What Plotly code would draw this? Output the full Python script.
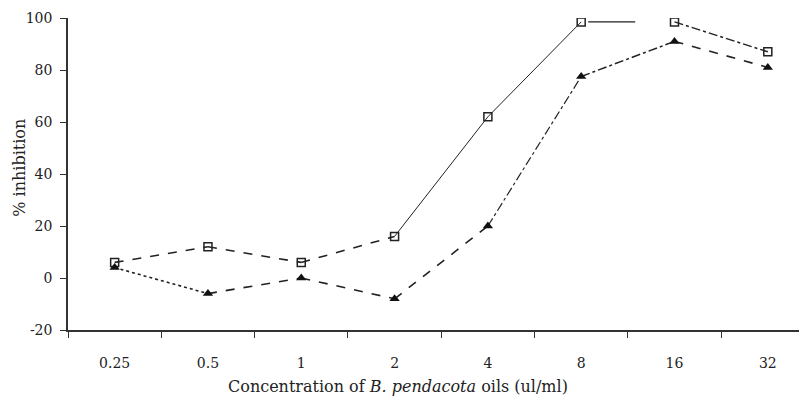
import plotly.graph_objects as go

categories = ["0.25", "0.5", "1", "2", "4", "8", "16", "32"]
squares = [6, 12, 6, 16, 62, 98.5, 98.5, 87]
triangles = [4, -6, 0, -8, 20, 77.5, 91, 81]
y_ticks = [-20, 0, 20, 40, 60, 80, 100]
y_tick_labels = ["-20", "0", "20", "40", "60", "80", "100"]

# line style per segment (between consecutive points)
sq_seg_dash = ["dash", "dash", "dash", "solid", "solid", "0px,7px,47px,100px", "dashdot"]
sq_seg_width = [1.6, 1.6, 1.6, 1.0, 1.0, 1.4, 1.5]
tr_seg_dash = ["dot", "dash", "dash", "dash", "dashdot", "dashdot", "dash"]
tr_seg_width = [1.6, 1.6, 1.6, 1.6, 1.2, 1.5, 1.6]

fig = go.Figure()
for i in range(len(categories) - 1):
    fig.add_trace(go.Scatter(x=categories[i:i + 2], y=squares[i:i + 2], mode="lines",
                             line=dict(color="#222", width=sq_seg_width[i], dash=sq_seg_dash[i]),
                             showlegend=False, hoverinfo="skip"))
    fig.add_trace(go.Scatter(x=categories[i:i + 2], y=triangles[i:i + 2], mode="lines",
                             line=dict(color="#222", width=tr_seg_width[i], dash=tr_seg_dash[i]),
                             showlegend=False, hoverinfo="skip"))

fig.add_trace(go.Scatter(x=categories, y=squares, mode="markers",
                         marker=dict(symbol="square-open", size=8, color="#222",
                                     line=dict(width=1.5, color="#222")),
                         showlegend=False))
fig.add_trace(go.Scatter(x=categories, y=triangles, mode="markers",
                         marker=dict(symbol="triangle-up", size=9, color="#111"),
                         showlegend=False))

tick_font = dict(family="DejaVu Serif, serif", size=14, color="#222")
title_font = dict(family="DejaVu Serif, serif", size=16, color="#222")

fig.update_layout(
    width=799, height=399,
    margin=dict(l=60, r=0, t=10, b=77),
    paper_bgcolor="white", plot_bgcolor="white",
    font=tick_font,
    xaxis=dict(type="category", categoryorder="array", categoryarray=categories,
               range=[-0.5, 7.42], showgrid=False, zeroline=False,
               showline=True, linecolor="#333", linewidth=1.5,
               ticks="outside", ticklen=6, tickwidth=1.3, tickcolor="#333",
               tickson="boundaries", ticklabelstandoff=19, tickfont=tick_font),
    yaxis=dict(range=[-20, 100], tickvals=y_ticks, ticktext=y_tick_labels,
               showgrid=False, zeroline=False,
               showline=True, linecolor="#333", linewidth=1.5,
               ticks="outside", ticklen=6, tickwidth=1.3, tickcolor="#333",
               ticklabelstandoff=5, tickfont=tick_font),
    annotations=[
        dict(text="% inhibition", textangle=-90, xref="paper", yref="paper",
             x=-0.065, y=0.52, xanchor="center", yanchor="middle", showarrow=False,
             font=title_font),
        dict(text="Concentration of <i>B. pendacota</i> oils (ul/ml)", xref="paper", yref="paper",
             x=0.4465, y=-0.182, xanchor="center", yanchor="middle", showarrow=False,
             font=title_font),
    ],
)

fig.write_html("out.html")
